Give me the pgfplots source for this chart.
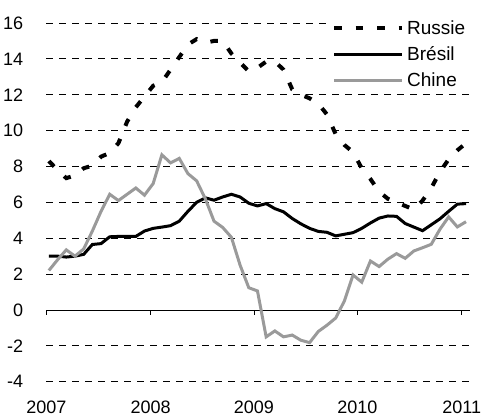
\documentclass[border=0pt]{standalone}
\usepackage{fontspec}
\setmainfont{Liberation Sans}
\usepackage{pgfplots}
\pgfplotsset{compat=1.18}
\definecolor{chine}{HTML}{9A9A9A}

% monthly values, Jan 2007 (m=0) to Jan 2011 (m=48)
\pgfplotstableread{
m russie bresil chine
0  8.3  3.0  2.2
1  7.8  3.0  2.8
2  7.35 2.95 3.35
3  7.5  3.0  3.0
4  7.9  3.1  3.4
5  8.05 3.65 4.4
6  8.55 3.7  5.5
7  8.75 4.08 6.45
8  9.3  4.1  6.1
9  10.5 4.1  6.45
10 11.3 4.1  6.8
11 11.9 4.4  6.4
12 12.5 4.55 7.05
13 12.7 4.62 8.65
14 13.4 4.7  8.2
15 14.1 4.95 8.45
16 14.8 5.5  7.6
17 15.1 6.0  7.2
18 14.9 6.25 6.2
19 15.0 6.12 4.95
20 15.0 6.3  4.6
21 14.3 6.45 4.05
22 13.8 6.3  2.5
23 13.3 5.95 1.24
24 13.5 5.8  1.06
25 13.85 5.93 -1.5
26 13.85 5.65 -1.17
27 13.4 5.47 -1.5
28 12.3 5.1  -1.4
29 12.0 4.8  -1.69
30 11.8 4.55 -1.82
31 11.5 4.38 -1.2
32 10.9 4.33 -0.85
33 9.8  4.13 -0.45
34 9.2  4.22 0.5
35 8.8  4.31 1.95
36 7.9  4.55 1.55
37 7.3  4.85 2.73
38 6.6  5.12 2.42
39 6.2  5.24 2.83
40 6.0  5.22 3.14
41 5.8  4.82 2.88
42 5.6  4.62 3.29
43 6.1  4.42 3.47
44 6.8  4.75 3.66
45 7.7  5.08 4.5
46 8.4  5.5  5.19
47 8.9  5.9  4.63
48 9.3  5.93 4.92
}\data

\begin{document}
\begin{tikzpicture}
\path[use as bounding box] (0,0) rectangle (491bp,417bp);
\begin{axis}[
  at={(46.3bp,35.3bp)}, anchor=south west,
  x=8.69bp, y=17.935bp,
  xmin=-0.3, xmax=48.5, ymin=-4, ymax=16,
  axis x line=middle, axis y line*=left,
  axis line style={-},
  x axis line style={black, line width=0.75bp},
  y axis line style={draw=none},
  hide obscured x ticks=false,
  xtick={-0.3,11.7,23.6,35.5,47.5},
  xticklabels={2007,2008,2009,2010,2011},
  ytick={-4,-2,...,16},
  tick align=outside,
  major tick length=5bp,
  xtick style={black, line width=0.75bp},
  ytick style={draw=none},
  ymajorgrids,
  major grid style={black, line width=0.75bp, dash pattern=on 7bp off 6bp},
  /pgf/number format/assume math mode=true,
  tick label style={font=\fontsize{18bp}{21bp}\selectfont},
  xticklabel style={inner sep=0pt, anchor=north},
  xticklabel shift=86bp,
  yticklabel style={inner sep=0pt, anchor=east, xshift=-18bp},
  legend style={font=\fontsize{19bp}{22bp}\selectfont, draw=none, fill=white,
    at={(rel axis cs:0.669,1.017)}, anchor=north west,
    inner xsep=2bp, inner ysep=2bp, row sep=10bp,
    nodes={font=\fontsize{19bp}{22bp}\selectfont, inner xsep=3bp, inner ysep=0pt,
      text height=13bp, text depth=0pt, anchor=base west}},
  legend cell align=left,
  legend image code/.code={%
    \path (0bp,0bp) (68bp,13bp);
    \draw[#1] (0bp,6.5bp) -- (68bp,6.5bp);},
  clip=false,
]
\addplot[black, line width=4bp, dash pattern=on 7.5bp off 14bp] table[x=m, y=russie] {\data};
\addlegendentry{Russie}
\addplot[black, line width=3bp] table[x=m, y=bresil] {\data};
\addlegendentry{Brésil}
\addplot[chine, line width=3bp] table[x=m, y=chine] {\data};
\addlegendentry{Chine}
\end{axis}
\end{tikzpicture}
\end{document}
